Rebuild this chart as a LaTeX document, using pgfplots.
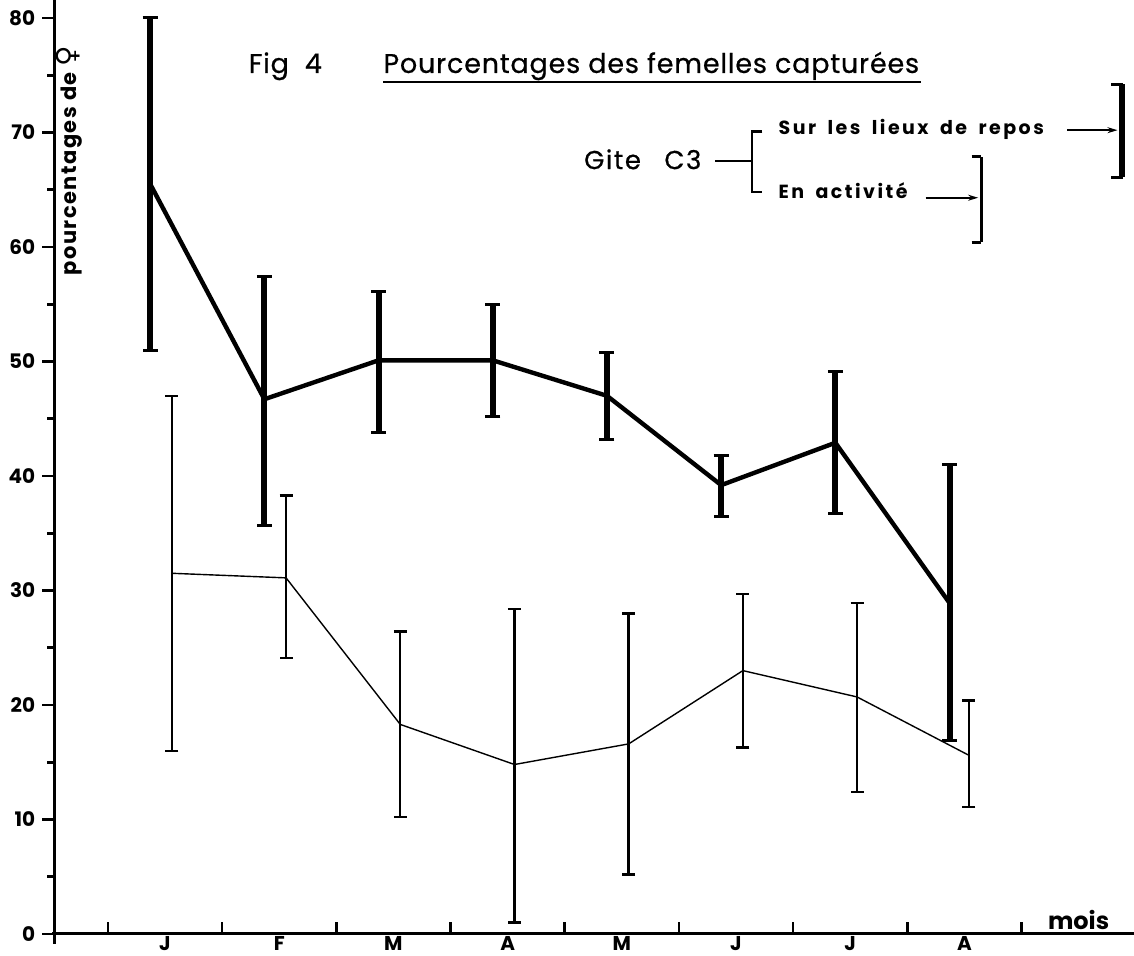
\documentclass[border=0pt]{standalone}
\usepackage{pgfplots}
\pgfplotsset{compat=1.18}
\usepackage{pgfplotstable}
\usetikzlibrary{arrows.meta}
\usepackage{fontspec}
\setmainfont{Poppins}
\newfontfamily\dejavu{DejaVu Sans}

% Sur les lieux de repos (thick)
\pgfplotstableread{
x y ep em
0.87 65.5 14.5 14.5
1.87 46.7 10.7 11.0
2.87 50.1 6.0 6.3
3.87 50.1 4.9 4.9
4.87 47.0 3.8 3.8
5.87 39.2 2.6 2.7
6.87 42.9 6.2 6.2
7.87 28.9 12.1 12.0
}\repos

% En activite (thin)
\pgfplotstableread{
x y ep em
1.06 31.5 15.5 15.5
2.06 31.1 7.2 7.0
3.06 18.3 8.1 8.1
4.06 14.8 13.6 13.8
5.06 16.6 11.4 11.4
6.06 23.0 6.7 6.7
7.06 20.7 8.2 8.3
8.04 15.6 4.8 4.5
}\activite

\newcommand{\ws}{\hspace{0.6em}}

\begin{document}
\begin{tikzpicture}
\begin{axis}[
  x=57.1pt, y=5.725pt,
  xmin=0.03, xmax=9.49, ymin=0, ymax=81.6,
  axis lines=left,
  axis line style={-, line width=1.5pt},
  x axis line style={shorten <=-1pt},
  y axis line style={shorten <=-5pt},
  clip=false,
  tick align=outside,
  major tick length=6pt,
  minor tick length=3.5pt,
  every tick/.style={line width=1.3pt, black},
  xtick={0.5,1.5,2.5,3.5,4.5,5.5,6.5,7.5,8.5},
  xticklabels={},
  xtick style={yshift=6pt},
  extra x ticks={1,2,3,4,5,6,7,8},
  extra x tick labels={J,F,M,A,M,J,J,A},
  extra x tick style={major tick length=0pt, tick label style={yshift=2.5pt}},
  ytick={0,10,...,80},
  minor ytick={5,15,...,75},
  ticklabel style={font=\bfseries\fontsize{10}{12}\selectfont},
  /pgf/number format/assume math mode=true,
]
\addplot[black, line width=2.2pt, mark=none,
  error bars/.cd, y dir=both, y explicit,
  error bar style={line width=3pt},
  error mark options={rotate=90, line width=1.5pt, mark size=3.75pt, black}]
  table[x=x, y=y, y error plus=ep, y error minus=em]{\repos};
\addplot[black, line width=0.7pt, mark=none,
  error bars/.cd, y dir=both, y explicit,
  error bar style={line width=1.2pt},
  error mark options={rotate=90, line width=1.2pt, mark size=3.25pt, black}]
  table[x=x, y=y, y error plus=ep, y error minus=em]{\activite};

% titles
\node[anchor=base west, inner sep=0, font=\fontsize{13.5}{15}\selectfont\addfontfeature{LetterSpace=3,FakeBold=0.6}] at (axis cs:1.73,75.2) {Fig\ \ 4};
\node[anchor=base west, inner sep=0, font=\fontsize{13.5}{15}\selectfont\addfontfeature{LetterSpace=3,FakeBold=0.6}] at (axis cs:2.91,75.2) {Pourcentages des femelles capturées};
\draw[line width=1.4pt] (axis cs:2.91,74.4) -- (axis cs:7.62,74.4);

% y label
\node[rotate=90, anchor=east, inner sep=0, font=\bfseries\fontsize{10.5}{12}\selectfont\addfontfeature{LetterSpace=7}] at (axis cs:0.16,77.6) {pourcentages de {\dejavu\bfseries\fontsize{14}{14}\selectfont ♀}};

% x label
\node[anchor=base, inner sep=0, font=\bfseries\fontsize{12}{14}\selectfont] at (axis cs:9.0,0.4) {mois};

% legend
\node[anchor=base east, inner sep=0, font=\fontsize{13}{15}\selectfont\addfontfeature{LetterSpace=6,FakeBold=0.6}] at (axis cs:5.70,66.8) {Gite\hspace{0.9em}C3};
\draw[line width=1.2pt] (axis cs:5.82,67.5) -- (axis cs:6.14,67.5);
\draw[line width=1.2pt] (axis cs:6.23,70.1) -- (axis cs:6.14,70.1) -- (axis cs:6.14,64.8) -- (axis cs:6.23,64.8);
\node[anchor=base west, inner sep=0, font=\bfseries\fontsize{9.5}{12}\selectfont\addfontfeature{LetterSpace=13}] at (axis cs:6.37,69.8) {Sur\ws les\ws lieux\ws de\ws repos};
\node[anchor=base west, inner sep=0, font=\bfseries\fontsize{9.5}{12}\selectfont\addfontfeature{LetterSpace=13}] at (axis cs:6.37,64.2) {En\ws activité};
\draw[-{Stealth[length=5pt,width=3pt]}, line width=0.8pt] (axis cs:8.90,70.2) -- (axis cs:9.34,70.2);
\draw[-{Stealth[length=5pt,width=3pt]}, line width=0.8pt] (axis cs:7.66,64.3) -- (axis cs:8.12,64.3);
% legend samples
\draw[line width=3pt] (axis cs:9.38,66.1) -- (axis cs:9.38,74.2);
\draw[line width=1.5pt] (axis cs:9.38,66.1) ++(-3.75pt,0) -- ++(7.5pt,0);
\draw[line width=1.5pt] (axis cs:9.38,74.2) ++(-3.75pt,0) -- ++(7.5pt,0);
\draw[line width=1.2pt] (axis cs:8.15,60.4) -- (axis cs:8.15,67.9);
\draw[line width=1.2pt] (axis cs:8.15,60.4) ++(-3.25pt,0) -- ++(6.5pt,0);
\draw[line width=1.2pt] (axis cs:8.15,67.9) ++(-3.25pt,0) -- ++(6.5pt,0);

\coordinate (bbl) at (axis cs:-0.445,-1.92);
\coordinate (bbr) at (axis cs:9.485,81.57);
\end{axis}
\pgfresetboundingbox
\path[use as bounding box] (bbl) rectangle (bbr);
\end{tikzpicture}
\end{document}
